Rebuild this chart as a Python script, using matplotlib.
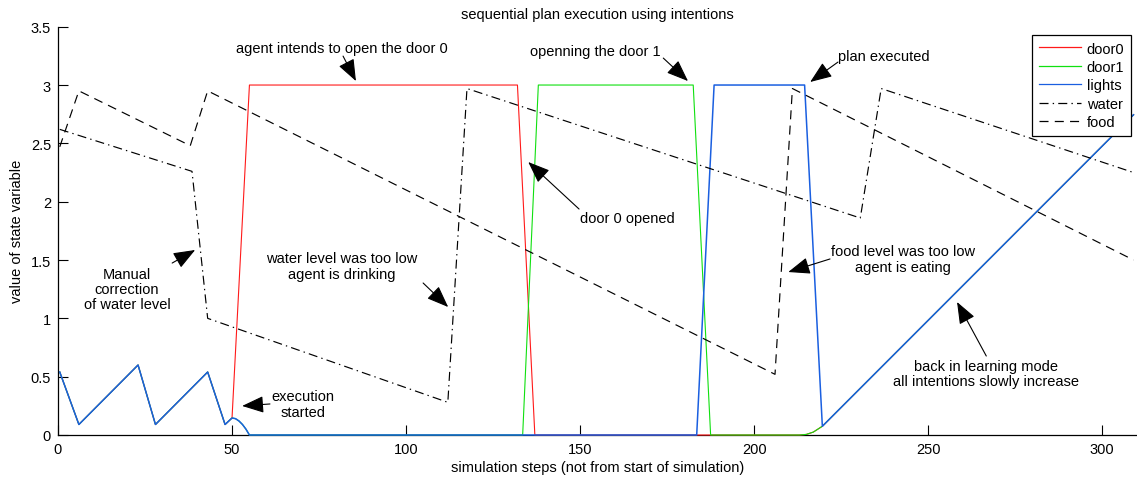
import matplotlib
matplotlib.use('Agg')
import matplotlib.pyplot as plt

plt.rcParams['font.family'] = ['Liberation Sans', 'DejaVu Sans']
plt.rcParams['lines.scale_dashes'] = False

# ---- data ----
early_x = [0.5, 6, 23, 28, 43, 48, 50]
early_y = [0.54, 0.09, 0.60, 0.09, 0.54, 0.09, 0.146]

door0_x = early_x + [55, 132, 137, 213, 215, 217, 219.6, 309]
door0_y = early_y + [3.0, 3.0, 0.0, 0.0, 0.005, 0.025, 0.075, 2.745]

door1_x = early_x + [51, 52, 53, 54, 55, 133.5, 138, 182.5, 187.5, 213, 215, 217, 219.6, 309]
door1_y = early_y + [0.14, 0.12, 0.09, 0.05, 0.0, 0.0, 3.0, 3.0, 0.0, 0.0, 0.005, 0.025, 0.075, 2.745]

lights_x = early_x + [51, 52, 53, 54, 55, 183.5, 188.5, 214.5, 219.6, 309]
lights_y = early_y + [0.14, 0.12, 0.09, 0.05, 0.0, 0.0, 3.0, 3.0, 0.075, 2.745]

water_x = [0.5, 38.5, 43, 112, 117.5, 230.5, 236.5, 309]
water_y = [2.62, 2.26, 1.00, 0.28, 2.97, 1.86, 2.97, 2.25]

food_x = [0.5, 6, 38, 43, 206, 211, 309]
food_y = [2.47, 2.95, 2.48, 2.95, 0.52, 2.97, 1.50]

xticks = [0, 50, 100, 150, 200, 250, 300]
yticks = [0, 0.5, 1, 1.5, 2, 2.5, 3, 3.5]
ytick_labels = ['0', '0.5', '1', '1.5', '2', '2.5', '3', '3.5']

series_labels = ['door0', 'door1', 'lights', 'water', 'food']

# ---- figure ----
FS = 10.5
fig = plt.figure(figsize=(11.37, 4.81), dpi=100)
ax = fig.add_axes([58 / 1137, 45 / 481, (1137 - 58) / 1137, (453.3 - 45) / 481])

lw = 0.85
kw = dict(zorder=3, clip_on=False)
ax.plot(door0_x, door0_y, color='#ff1a1a', lw=0.8, label=series_labels[0], **kw)
ax.plot(door1_x, door1_y, color='#10e010', lw=0.8, label=series_labels[1], **kw)
ax.plot(lights_x, lights_y, color='#1a5fe0', lw=1.1, label=series_labels[2], **kw)
ax.plot(water_x, water_y, color='black', lw=lw, dashes=(6.5, 3, 1, 3), label=series_labels[3], **kw)
ax.plot(food_x, food_y, color='black', lw=lw, dashes=(6.5, 4.5), label=series_labels[4], **kw)

ax.set_xlim(0, 310)
ax.set_ylim(0, 3.5)
ax.set_xticks(xticks)
ax.set_yticks(yticks)
ax.set_yticklabels(ytick_labels)
ax.tick_params(direction='in', length=7, width=0.8, labelsize=FS, pad=5)
for s in ['top', 'right']:
    ax.spines[s].set_visible(False)
for s in ['left', 'bottom']:
    ax.spines[s].set_linewidth(0.9)

ax.set_title('sequential plan execution using intentions', fontsize=FS, pad=6)
ax.set_xlabel('simulation steps (not from start of simulation)', fontsize=FS, labelpad=3)
ax.set_ylabel('value of state variable', fontsize=FS, labelpad=5)

leg = ax.legend(loc='upper right', bbox_to_anchor=(1131 / 1137, (481 - 36) / 481),
                bbox_transform=fig.transFigure, borderaxespad=0, fontsize=FS,
                fancybox=False, framealpha=1, edgecolor='black',
                handlelength=2.9, handletextpad=0.4, labelspacing=0.3, borderpad=0.45)
leg.get_frame().set_linewidth(0.9)
for h in leg.get_lines():
    h.set_linewidth(0.9)

# ---- annotations ----
notes = [
    ('agent intends to open the door 0', (81.6, 3.317), (81.9, 3.248), (85.6, 3.034)),
    ('openning the door 1', (154.3, 3.291), (173.9, 3.231), (181.0, 3.034)),
    ('plan executed', (237.4, 3.248), (224.1, 3.197), (216.1, 3.026)),
    ('door 0 opened', (163.5, 1.860), (149.7, 1.937), (135.1, 2.340)),
    ('water level was too low\nagent is drinking', (81.6, 1.449), (104.9, 1.303), (112.1, 1.097)),
    ('Manual\ncorrection\nof water level', (19.8, 1.251), (32.8, 1.474), (39.4, 1.586)),
    ('execution\nstarted', (70.4, 0.266), (60.9, 0.266), (52.9, 0.249)),
    ('food level was too low\nagent is eating', (242.8, 1.509), (221.8, 1.509), (209.8, 1.397)),
    ('back in learning mode\nall intentions slowly increase', (266.7, 0.531), (266.7, 0.677), (258.3, 1.140)),
]
for txt, tpos, tail, head in notes:
    ax.text(tpos[0], tpos[1], txt, ha='center', va='center', fontsize=FS,
            linespacing=1.1, zorder=5)
    ax.annotate('', xy=head, xytext=tail,
                arrowprops=dict(arrowstyle='-|>,head_length=0.9,head_width=0.35',
                                color='black', lw=0.8, shrinkA=0, shrinkB=0,
                                mutation_scale=15),
                zorder=5)

fig.savefig('out.png', dpi=100)
